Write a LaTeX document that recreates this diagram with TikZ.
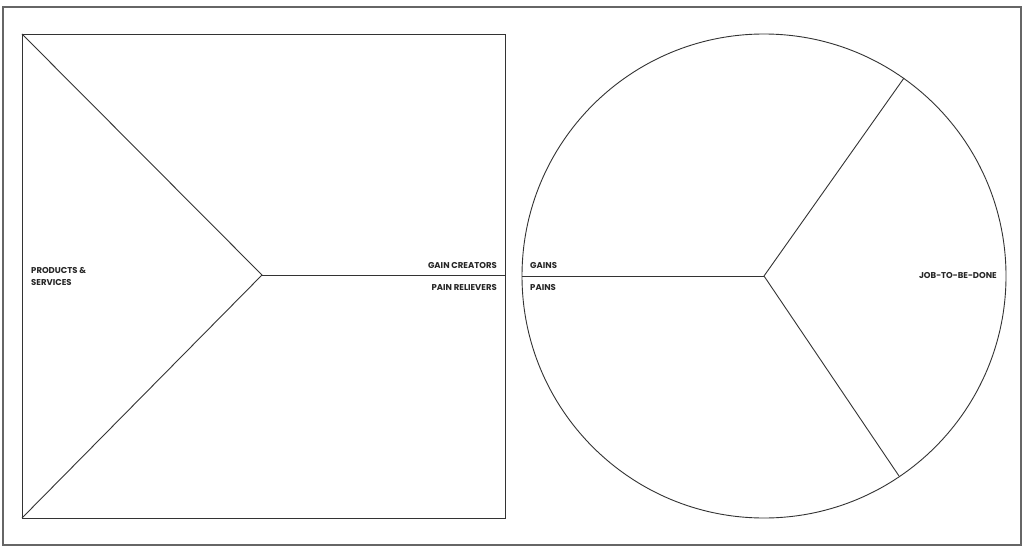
\documentclass[tikz,border=0pt]{standalone}
\usepackage{fontspec}
\setmainfont{Poppins}
\begin{document}
\begin{tikzpicture}[x=1pt,y=-1pt,
  ln/.style={draw=black!80,line width=0.9pt},
  lbl/.style={font=\fontsize{8.5}{12}\selectfont\bfseries,text=black!85,inner sep=0pt}]
\useasboundingbox (0,0) rectangle (1024,556);
\fill[white] (0,0) rectangle (1024,556);
% outer frame
\draw[draw=black!60,line width=1.3pt] (3,7) rectangle (1021,545);
% square (value map)
\coordinate (sqTL) at (22,34);
\coordinate (sqBL) at (22,518);
\coordinate (sqMR) at (505,275);
\coordinate (mid) at (262,275);
\draw[ln] (22,34) rectangle (505,518);
\draw[ln] (sqTL) -- (mid) -- (sqBL);
\draw[ln] (mid) -- (sqMR);
% circle (customer profile)
\coordinate (cc) at (764,276);
\draw[ln] (cc) circle[radius=242];
\coordinate (cL) at (522,276);
\coordinate (cUR) at (904,78);
\coordinate (cLR) at (899,476);
\draw[ln] (cc) -- (cL);
\draw[ln] (cc) -- (cUR);
\draw[ln] (cc) -- (cLR);
% labels
\node[lbl,anchor=west,align=left] (ps) at (31,276) {PRODUCTS \&\\SERVICES};
\node[lbl,anchor=east] (gc) at (497,266) {GAIN CREATORS};
\node[lbl,anchor=east] (pr) at (497,288) {PAIN RELIEVERS};
\node[lbl,anchor=west] (ga) at (530,266) {GAINS};
\node[lbl,anchor=west] (pa) at (530,288) {PAINS};
\node[lbl,anchor=east] (job) at (997,276) {JOB-TO-BE-DONE};
\end{tikzpicture}
\end{document}
